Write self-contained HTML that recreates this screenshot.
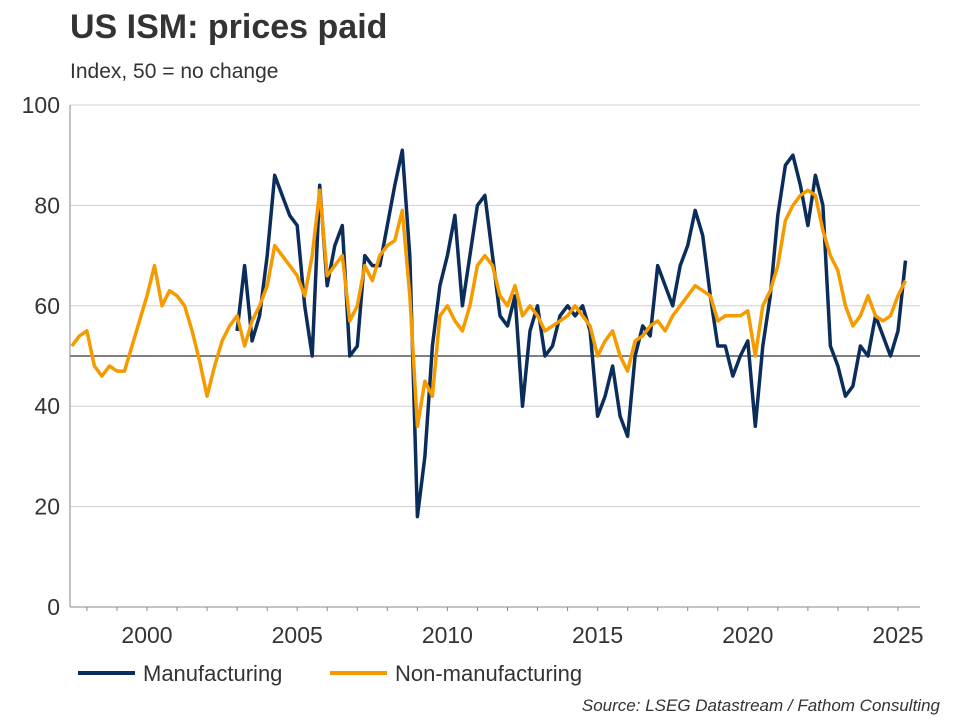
<!DOCTYPE html>
<html><head><meta charset="utf-8"><style>
body{margin:0;background:#fff;font-family:"Liberation Sans",sans-serif;}
</style></head><body>
<svg width="960" height="720" xmlns="http://www.w3.org/2000/svg">
<text x="70" y="38" font-size="34" font-weight="bold" fill="#333">US ISM: prices paid</text>
<text x="70" y="78" font-size="21" fill="#333">Index, 50 = no change</text>
<g id="grid"></g>
<g id="axes"></g>
<g id="series"></g>
<g>
<line x1="78" y1="673" x2="135" y2="673" stroke="#0b2d5b" stroke-width="4"/>
<text x="143" y="681" font-size="22" fill="#333">Manufacturing</text>
<line x1="330" y1="673" x2="387" y2="673" stroke="#f59b00" stroke-width="4"/>
<text x="395" y="681" font-size="22" fill="#333">Non-manufacturing</text>
</g>
<text x="940" y="711" font-size="17" font-style="italic" fill="#333" text-anchor="end">Source: LSEG Datastream / Fathom Consulting</text>
</svg>
<script>
const yTicks=[0,20,40,60,80,100];
const xTicks=[2000,2005,2010,2015,2020,2025];
const nonMfgStart=1997.5;
const nonMfg=[52,54,55,48,46,48,47,47,52,57,62,68,60,63,62,60,55,49,42,48,53,56,58,52,57,60,64,72,70,68,66,62,70,83,66,68,70,57,60,68,65,70,72,73,79,62,36,45,42,58,60,57,55,60,68,70,68,62,60,64,58,60,58,55,56,57,58,60,58,56,50,53,55,50,47,53,54,56,57,55,58,60,62,64,63,62,57,58,58,58,59,50,60,63,68,77,80,82,83,82,75,70,67,60,56,58,62,58,57,58,62,65];
const mfgStart=2003.0;
const mfg=[55,68,53,58,70,86,82,78,76,60,50,84,64,72,76,50,52,70,68,68,76,84,91,70,18,30,52,64,70,78,60,70,80,82,70,58,56,62,40,55,60,50,52,58,60,58,60,55,38,42,48,38,34,50,56,54,68,64,60,68,72,79,74,62,52,52,46,50,53,36,52,62,78,88,90,84,76,86,80,52,48,42,44,52,50,58,54,50,55,69];
const NS="http://www.w3.org/2000/svg";
const X0=70,X1=920,Y0=607,Y100=105;
const xs=t=>147+(t-2000)*30.04;
const ys=v=>Y0-(v/100)*(Y0-Y100);
function mk(tag,attrs,parent){const e=document.createElementNS(NS,tag);for(const k in attrs)e.setAttribute(k,attrs[k]);parent.appendChild(e);return e;}
const grid=document.getElementById('grid'),axes=document.getElementById('axes'),ser=document.getElementById('series');
yTicks.forEach(v=>{
 if(v>0){const l=mk('line',{x1:X0,x2:X1,y1:ys(v),y2:ys(v),stroke:'#d0d0d0','stroke-width':1},grid);
 
 }
 const t=mk('text',{x:X0-10,y:ys(v)+8,'font-size':23,fill:'#333','text-anchor':'end'},axes);t.textContent=v;
 
 
});
const ref=mk('line',{x1:X0,x2:X1,y1:ys(50),y2:ys(50),stroke:'#000','stroke-width':1},grid);


const ya=mk('line',{x1:X0,x2:X0,y1:Y100,y2:Y0,stroke:'#888','stroke-width':1},axes);


const xa=mk('line',{x1:X0,x2:X1,y1:Y0,y2:Y0,stroke:'#888','stroke-width':1},axes);


for(let y=1998;y<=2025;y++){const m=mk('line',{x1:xs(y),x2:xs(y),y1:Y0,y2:Y0+4,stroke:'#888'},axes);
 
 }
xTicks.forEach(y=>{const t=mk('text',{x:xs(y),y:643,'font-size':23,fill:'#333','text-anchor':'middle'},axes);t.textContent=y;
 
 });
function line(arr,start,color,name){
 const d=arr.map((v,i)=>(i?'L':'M')+xs(start+i*0.25).toFixed(1)+','+ys(v).toFixed(1)).join('');
 const p=mk('path',{d:d,fill:'none',stroke:color,'stroke-width':3.5,'stroke-linejoin':'round'},ser);
 
 
}
line(mfg,mfgStart,'#0b2d5b','manufacturing-line');
line(nonMfg,nonMfgStart,'#f59b00','nonmanufacturing-line');
</script>
</body></html>
